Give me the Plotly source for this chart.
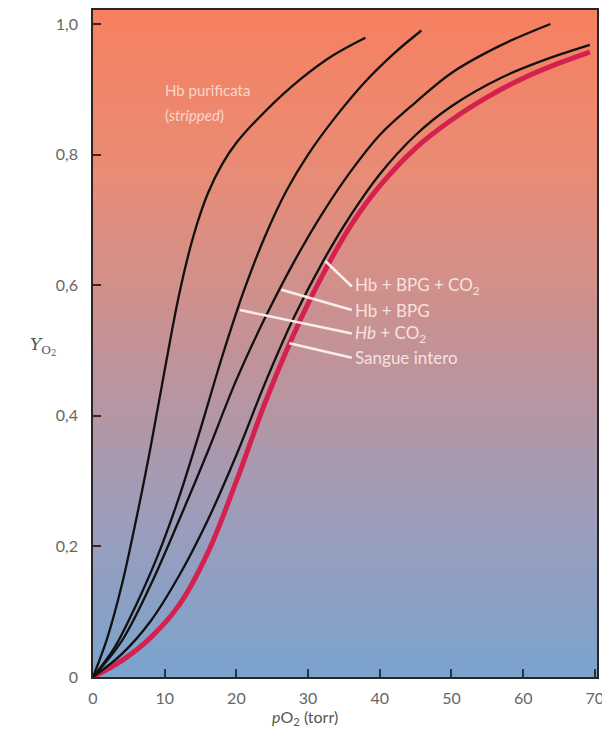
import plotly.graph_objs as go

# curve points (pO2 in torr, saturation Y)
x_stripped = [0, 2, 4, 6, 8, 10, 12, 14, 16, 18, 20, 24, 28.9, 33.5, 38.0]
y_stripped = [0, 0.06, 0.14, 0.24, 0.35, 0.47, 0.585, 0.675, 0.74, 0.785, 0.818, 0.866, 0.915, 0.952, 0.979]

x_co2 = [0, 3, 6, 9, 12, 15, 18, 21, 24, 27, 30, 34, 38, 42, 45.8]
y_co2 = [0, 0.045, 0.11, 0.185, 0.275, 0.38, 0.49, 0.59, 0.675, 0.745, 0.80, 0.86, 0.912, 0.955, 0.99]

x_bpg = [0, 4, 8, 12, 16, 20, 24, 28, 32, 36, 40, 45, 50, 57, 63.8]
y_bpg = [0, 0.055, 0.14, 0.24, 0.345, 0.455, 0.55, 0.635, 0.71, 0.775, 0.83, 0.88, 0.925, 0.968, 1.0]

x_bpg_co2 = [0, 4, 8, 12, 16, 20, 24, 28, 32, 36, 40, 45, 50, 57, 63, 69.3]
y_bpg_co2 = [0, 0.035, 0.085, 0.155, 0.24, 0.34, 0.45, 0.55, 0.635, 0.708, 0.77, 0.83, 0.874, 0.918, 0.945, 0.968]

x_sangue = [0, 4, 8, 12, 16, 20, 24, 28, 32, 36, 40, 45, 50, 55, 60, 65, 69.3]
y_sangue = [0, 0.025, 0.06, 0.11, 0.19, 0.30, 0.42, 0.525, 0.615, 0.692, 0.752, 0.81, 0.853, 0.888, 0.917, 0.94, 0.957]

x_ticks = [0, 10, 20, 30, 40, 50, 60, 70]
y_ticks = [0, 0.2, 0.4, 0.6, 0.8, 1.0]
y_ticklabels = ["0", "0,2", "0,4", "0,6", "0,8", "1,0"]

# labels and where their pointer lines start (on the curve) and end (at the text)
labels = ["Hb + BPG + CO<sub>2</sub>", "Hb + BPG", "<i>Hb</i> + CO<sub>2</sub>", "Sangue intero"]
label_y = [0.598, 0.562, 0.526, 0.489]
pointer_x0 = [32.4, 26.3, 20.5, 27.4]
pointer_y0 = [0.637, 0.593, 0.562, 0.511]
label_x = 36.1

fig = go.Figure()

fig.add_trace(go.Scatter(x=x_sangue, y=y_sangue, mode="lines", line=dict(color="#d4214f", width=5, shape="spline")))
for xs, ys in [(x_stripped, y_stripped), (x_co2, y_co2), (x_bpg, y_bpg), (x_bpg_co2, y_bpg_co2)]:
    fig.add_trace(go.Scatter(x=xs, y=ys, mode="lines", line=dict(color="#111111", width=2.3, shape="spline")))

# gradient background, orange at top to blue at bottom
stops = [(0.0, (122, 164, 206)), (0.25, (158, 156, 185)), (0.5, (196, 146, 150)),
         (0.75, (232, 140, 118)), (1.0, (247, 128, 96))]
shapes = []
n = 80
for i in range(n):
    t = (i + 0.5) / n
    for j in range(len(stops) - 1):
        if stops[j][0] <= t <= stops[j + 1][0]:
            f = (t - stops[j][0]) / (stops[j + 1][0] - stops[j][0])
            c = [round(stops[j][1][k] + f * (stops[j + 1][1][k] - stops[j][1][k])) for k in range(3)]
            break
    shapes.append(dict(type="rect", xref="x domain", yref="y domain", x0=0, x1=1, y0=i / n, y1=(i + 1) / n + 0.002,
                       fillcolor="rgb(%d,%d,%d)" % tuple(c), line=dict(width=0), layer="below"))

for i in range(len(labels)):
    shapes.append(dict(type="line", xref="x", yref="y", x0=pointer_x0[i], y0=pointer_y0[i], x1=label_x, y1=label_y[i],
                       line=dict(color="#fbeeea", width=2.5)))

annotations = []
for i in range(len(labels)):
    annotations.append(dict(x=label_x + 0.2, y=label_y[i], xref="x", yref="y", text=labels[i], showarrow=False,
                            xanchor="left", yanchor="middle", font=dict(family="Lato", size=17, color="#f6e2de")))
annotations.append(dict(x=9.8, y=0.899, xref="x", yref="y", text="Hb purificata", showarrow=False,
                        xanchor="left", yanchor="middle", font=dict(family="Lato", size=15, color="#f8d6cc")))
annotations.append(dict(x=9.8, y=0.861, xref="x", yref="y", text="(<i>stripped</i>)", showarrow=False,
                        xanchor="left", yanchor="middle", font=dict(family="Lato", size=15, color="#f8d6cc")))
annotations.append(dict(x=-0.099, y=0.496, xref="paper", yref="paper", text="<i>Y</i><sub>O<sub>2</sub></sub>",
                        xanchor="center", yanchor="middle",
                        showarrow=False, font=dict(family="DejaVu Serif", size=17, color="#555555")))
annotations.append(dict(x=0.42, y=-0.061, xref="paper", yref="paper", text="<i>p</i>O<sub>2</sub> (torr)",
                        showarrow=False, yanchor="middle", font=dict(family="Lato", size=16, color="#555555")))

layout = go.Layout(
    width=602, height=732,
    margin=dict(l=85, r=13, t=0, b=63),
    paper_bgcolor="white", plot_bgcolor="#b8949a",
    showlegend=False,
    shapes=shapes, annotations=annotations,
    xaxis=dict(range=[0, 70.3], tickvals=x_ticks, ticks="inside", ticklen=8, tickwidth=2, tickcolor="#2b3140",
               showline=True, linecolor="#2b2525", linewidth=1.5, mirror=True, showgrid=False, zeroline=False,
               ticklabelstandoff=6, tickfont=dict(family="Lato", size=16, color="#666666")),
    yaxis=dict(range=[0, 1.0214], tickvals=y_ticks, ticktext=y_ticklabels, ticks="inside", ticklen=8, tickwidth=2,
               tickcolor="#4a2018", showline=True, linecolor="#2b2525", linewidth=1.5, mirror=True, showgrid=False,
               zeroline=False, ticklabelstandoff=10, tickfont=dict(family="Lato", size=16, color="#666666")),
)

fig.update_layout(layout)
fig.write_html("out.html")
